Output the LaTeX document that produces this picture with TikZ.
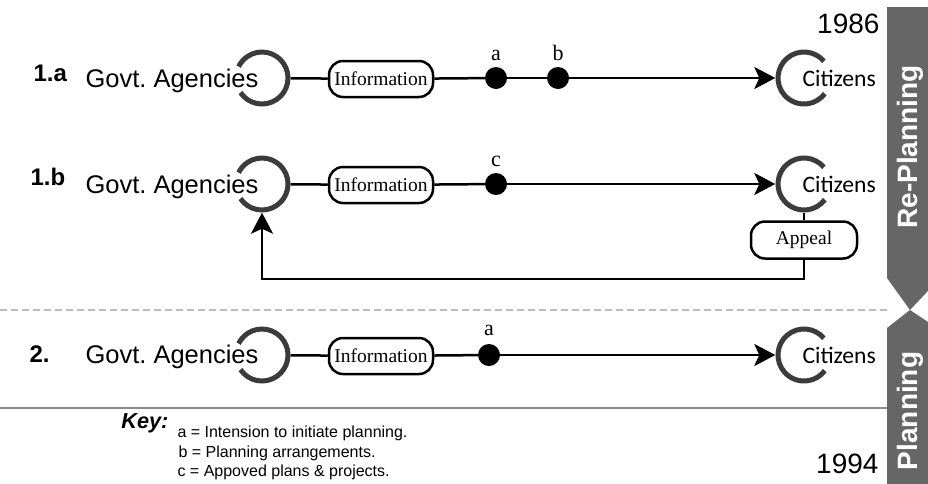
\documentclass[tikz,border=0pt]{standalone}
\usepackage{fontspec}
\setmainfont{Liberation Sans}
\newfontfamily\boxfont{Liberation Serif}
\newfontfamily\citfont{Carlito}
\usetikzlibrary{arrows.meta}
\newcommand{\fsz}[1]{\fontsize{#1}{#1}\selectfont}
\frenchspacing
\definecolor{ringgray}{HTML}{3B3B3B}
\definecolor{bandgray}{HTML}{666666}
\definecolor{dashgray}{HTML}{BDBDBD}
\definecolor{rulegray}{HTML}{8C8C8C}
\tikzset{
  ringnode/.style={circle, minimum size=57pt, inner sep=0pt},
  ring/.style={line width=5pt, color=ringgray},
  conn/.style={line width=2.5pt, color=black},
  tip/.style={-{Stealth[length=21pt, width=22pt, inset=5pt]}},
  infobox/.style={draw, line width=2.5pt, rounded corners=14pt, minimum width=104pt,
    minimum height=36pt, inner sep=0pt, font=\boxfont\fsz{19.5}},
  evdot/.style={circle, fill=black, minimum size=22pt, inner sep=0pt},
  evlabel/.style={anchor=base, font=\boxfont\fsz{22}},
  rowlabel/.style={anchor=base west, font=\bfseries\fsz{24}},
  govtext/.style={anchor=base west, font=\fsz{25.5}},
  cittext/.style={anchor=base west, font=\citfont\fsz{23.6}},
  bandtext/.style={rotate=90, anchor=base, text=white, font=\bfseries\fsz{28}},
  keytext/.style={anchor=base west, font=\fsz{16}}
}
\begin{document}
\begin{tikzpicture}[x=1pt, y={(0pt,-1pt)}]
\useasboundingbox (0,0) rectangle (928,483);

% side bands: Re-Planning on top, Planning below, meeting point to point
\fill[bandgray] (887,7) -- (940,7) -- (940,278) -- (910,310) -- (887,278) -- cycle;
\fill[bandgray] (910,310) -- (940,330) -- (940,490) -- (887,490) -- (887,328) -- cycle;
\node[bandtext] (rp) at (917,147) {Re-Planning};
\node[bandtext] (pl) at (917,411) {Planning};
\node[anchor=base east, font=\fsz{28}] (y86) at (883,33) {1986};
\node[anchor=base east, font=\fsz{28}] (y94) at (882,473) {1994};

% separators
\draw[dashgray, line width=1.5pt, dash pattern=on 7pt off 4pt] (0,310) -- (887,310);
\draw[rulegray, line width=1.5pt] (0,408) -- (887,408);

% ---------- row 1.a ----------
\node[rowlabel] (l1a) at (30,81) {1.a};
\node[govtext] (t1a) at (82,87) {Govt. Agencies};
\node[ringnode] (g1) at (262,78) {};
\draw[ring] (g1.center) ++(146:26) arc[start angle=146, end angle=-154, radius=26];
\node[infobox] (i1) at (381,79) {Information};
\node[evdot] (a1) at (496,78) {};
\node[evdot] (b1) at (558,78) {};
\node[evlabel] (la1) at (496,60) {a};
\node[evlabel] (lb1) at (558,60) {b};
\node[ringnode] (c1) at (804,78) {};
\draw[ring] (c1.center) ++(-40:26) arc[start angle=-40, end angle=-323, radius=26];
\node[cittext] (ct1) at (799,86) {Citizens};
\draw[conn] (g1) -- (i1);
\draw[conn] (i1) -- (a1);
\draw[conn] (a1) -- (b1);
\draw[conn, tip] (b1) -- (c1);

% ---------- row 1.b ----------
\node[rowlabel] (l1b) at (27,185) {1.b};
\node[govtext] (t1b) at (82,193) {Govt. Agencies};
\node[ringnode] (g2) at (262,184) {};
\draw[ring] (g2.center) ++(146:26) arc[start angle=146, end angle=-154, radius=26];
\node[infobox] (i2) at (381,185) {Information};
\node[evdot] (cdot) at (496,184) {};
\node[evlabel] (lc) at (496,166) {c};
\node[ringnode] (c2) at (804,184) {};
\draw[ring] (c2.center) ++(-40:26) arc[start angle=-40, end angle=-323, radius=26];
\node[cittext] (ct2) at (799,192) {Citizens};
\node[infobox, minimum width=106pt, minimum height=37pt] (ap) at (804,240) {Appeal};
\draw[conn] (g2) -- (i2);
\draw[conn] (i2) -- (cdot);
\draw[conn, tip] (cdot) -- (c2);
\draw[conn] (c2) -- (ap);
\draw[conn, tip] (ap.south) -- ++(0,19) -| (g2.south);

% ---------- row 2 ----------
\node[rowlabel] (l2) at (26,362) {2.};
\node[govtext] (t2) at (82,363) {Govt. Agencies};
\node[ringnode] (g3) at (262,355) {};
\draw[ring] (g3.center) ++(146:26) arc[start angle=146, end angle=-154, radius=26];
\node[infobox] (i3) at (381,356) {Information};
\node[evdot] (a3) at (489,355) {};
\node[evlabel] (la3) at (489,335) {a};
\node[ringnode] (c3) at (804,355) {};
\draw[ring] (c3.center) ++(-40:26) arc[start angle=-40, end angle=-323, radius=26];
\node[cittext] (ct3) at (799,363) {Citizens};
\draw[conn] (g3) -- (i3);
\draw[conn] (i3) -- (a3);
\draw[conn, tip] (a3) -- (c3);

% ---------- key ----------
\node[anchor=base east, font=\bfseries\itshape\fsz{21.7}] (key) at (172,428) {Key:};
\node[keytext] (k1) at (174,437) {a = Intension to initiate planning.};
\node[keytext] (k2) at (175,457) {b = Planning arrangements.};
\node[keytext] (k3) at (174,476) {c = Appoved plans \& projects.};
\end{tikzpicture}
\end{document}
